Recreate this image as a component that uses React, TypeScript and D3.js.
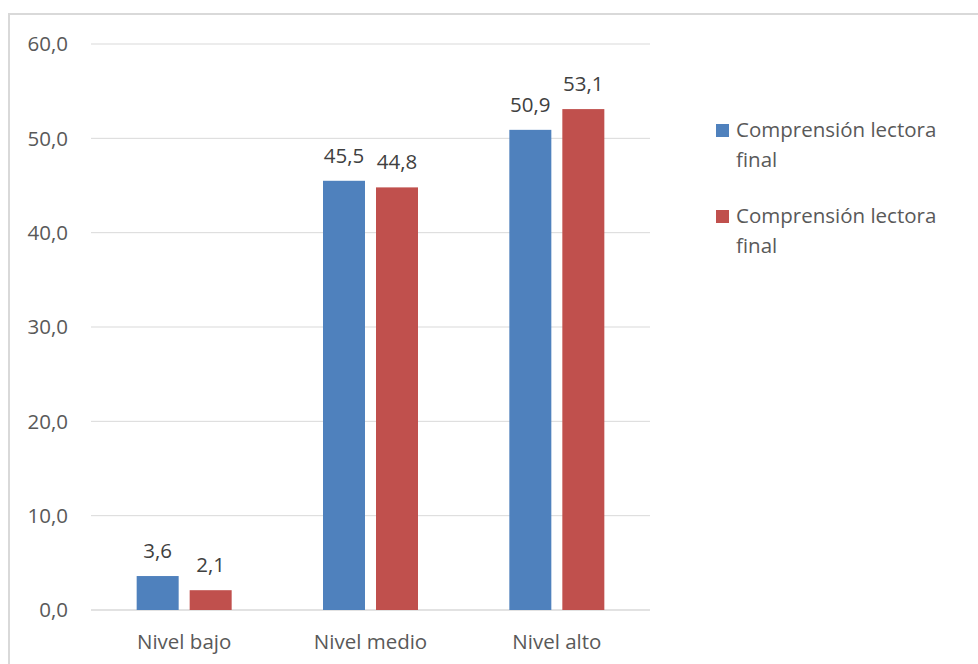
import React from "react";
import * as d3 from "d3";

const categories = ["Nivel bajo", "Nivel medio", "Nivel alto"];
const seriesNames = ["Comprensión lectora final", "Comprensión lectora final"];
const seriesA = [3.6, 45.5, 50.9];
const seriesB = [2.1, 44.8, 53.1];
const yTicks = [0, 10, 20, 30, 40, 50, 60];
const colors = ["#4f81bd", "#c0504d"];

const W = 978;
const H = 664;
const plot = { left: 91, right: 650, top: 44, bottom: 610 };
const font = "'Open Sans', sans-serif";
const fs = 20.5;
const fmt = (v: number) => v.toFixed(1).replace(".", ",");

export default function App() {
  const x = d3
    .scaleBand<string>()
    .domain(categories)
    .range([plot.left, plot.right])
    .paddingInner(0)
    .paddingOuter(0);
  const y = d3.scaleLinear().domain([0, 60]).range([plot.bottom, plot.top]);
  const barW = 42;
  const offsets = [-26.5, 26.5];
  const series = [seriesA, seriesB];

  return (
    <svg
      width={W}
      height={H}
      style={{ position: "absolute", left: 0, top: 0, background: "#fff" }}
      fontFamily={font}
    >
      <rect x={9} y={14} width={W} height={H} fill="#fff" stroke="#d9d9d9" strokeWidth={2} />
      {yTicks.map((t) => (
        <g key={t}>
          <line
            x1={plot.left}
            x2={plot.right}
            y1={y(t)}
            y2={y(t)}
            stroke="#d9d9d9"
            strokeWidth={t === 0 ? 1.5 : 1}
          />
          <text
            x={68}
            y={y(t)}
            dy="0.35em"
            textAnchor="end"
            fontSize={fs}
            fill="#595959"
          >
            {fmt(t)}
          </text>
        </g>
      ))}
      {series.map((vals, si) =>
        vals.map((v, i) => {
          const cx = x(categories[i])! + x.bandwidth() / 2 + offsets[si];
          return (
            <g key={`${si}-${i}`}>
              <rect
                x={cx - barW / 2}
                y={y(v)}
                width={barW}
                height={y(0) - y(v)}
                fill={colors[si]}
              />
              <text
                x={cx}
                y={y(v) - 18}
                textAnchor="middle"
                fontSize={fs}
                fill="#404040"
              >
                {fmt(v)}
              </text>
            </g>
          );
        })
      )}
      {categories.map((c) => (
        <text
          key={c}
          x={x(c)! + x.bandwidth() / 2}
          y={649}
          textAnchor="middle"
          fontSize={fs}
          fill="#595959"
        >
          {c}
        </text>
      ))}
      {seriesNames.map((name, i) => {
        const base = 137 + i * 86;
        const words = name.split(" ");
        return (
          <g key={i}>
            <rect x={716} y={base - 13} width={13} height={13} fill={colors[i]} />
            <text x={736} y={base} fontSize={fs} fill="#595959">
              {words.slice(0, 2).join(" ")}
            </text>
            <text x={736} y={base + 29.5} fontSize={fs} fill="#595959">
              {words.slice(2).join(" ")}
            </text>
          </g>
        );
      })}
    </svg>
  );
}
